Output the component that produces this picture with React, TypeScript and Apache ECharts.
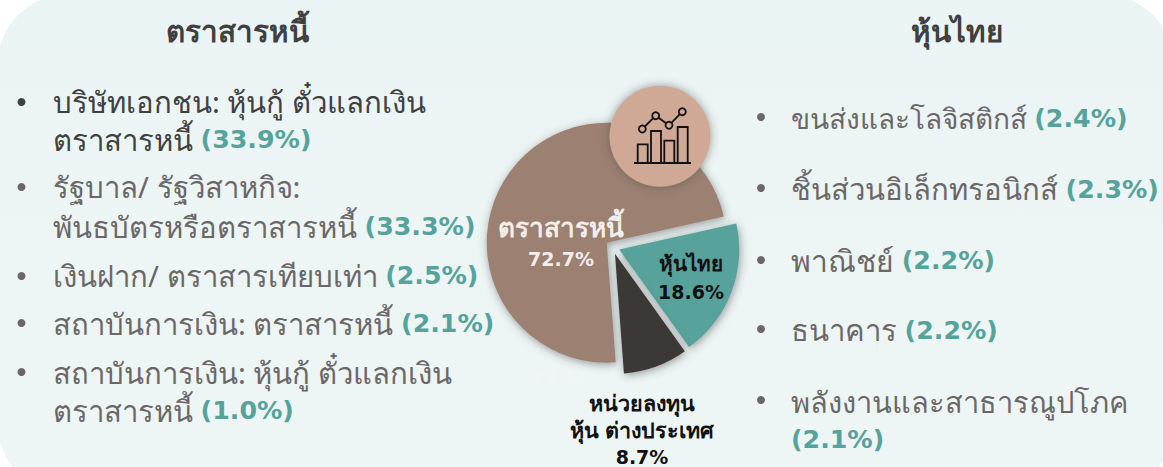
import React, { useEffect, useRef } from "react";
import * as echarts from "echarts";

const categories = ["ตราสารหนี้", "หุ้นไทย", "หน่วยลงทุน\nหุ้น ต่างประเทศ"];
const values = [72.7, 18.6, 8.7];
const sliceColors = ["#9C8071", "#58A29C", "#3B3836"];

const leftTitle = "ตราสารหนี้";
const rightTitle = "หุ้นไทย";
const ghostLabel = "73 %";
const leftLines = [
  ["บริษัทเอกชน: หุ้นกู้ ตั๋วแลกเงิน", ""],
  ["ตราสารหนี้ ", "(33.9%)"],
  ["รัฐบาล/ รัฐวิสาหกิจ:", ""],
  ["พันธบัตรหรือตราสารหนี้ ", "(33.3%)"],
  ["เงินฝาก/ ตราสารเทียบเท่า ", "(2.5%)"],
  ["สถาบันการเงิน: ตราสารหนี้ ", "(2.1%)"],
  ["สถาบันการเงิน: หุ้นกู้ ตั๋วแลกเงิน", ""],
  ["ตราสารหนี้ ", "(1.0%)"],
];
const rightLines = [
  ["ขนส่งและโลจิสติกส์ ", "(2.4%)"],
  ["ชิ้นส่วนอิเล็กทรอนิกส์ ", "(2.3%)"],
  ["พาณิชย์ ", "(2.2%)"],
  ["ธนาคาร ", "(2.2%)"],
  ["พลังงานและสาธารณูปโภค", ""],
  ["", "(2.1%)"],
];

const leftLineY = [101.5, 139.5, 186.5, 226.5, 275.5, 323.5, 372.5, 410.5];
const rightLineY = [118, 189, 260, 330, 401, 439.5];
const rightLineSize = [28, 29.3, 30, 29.3, 29, 29.3];
const leftBulletY = [102, 187, 276, 323, 372];
const rightBulletY = [117, 188, 260, 329, 400];
const iconBars = [
  [637.7, 144.3, 10],
  [651, 131, 10],
  [664.3, 140.7, 10],
  [677.7, 127, 10],
];
const iconDots = [
  [642.3, 129],
  [655.7, 115.7],
  [669, 125.3],
  [682.3, 111.7],
];
const labelPos = [
  [561, 243],
  [691, 277],
  [642, 429.5],
];
const labelColors = ["#F2EEEB", "#111111", "#111111"];
const labelNameSize = [26.2, 20.7, 21.5];

const THAI = '"Noto Sans", sans-serif';
const PCT = '"DejaVu Sans", sans-serif';
const TEXT = "#6B6767";
const DARK = "#404040";
const TEAL = "#55A39B";

function lineText(x: number, y: number, line: string[], color: string, size: number) {
  return {
    type: "text",
    x,
    y,
    z: 5,
    style: {
      text: (line[0] ? `{t|${line[0]}}` : "") + (line[1] ? `{p|${line[1]}}` : ""),
      verticalAlign: "middle",
      rich: {
        t: { fontSize: size, fontFamily: THAI, fill: color },
        p: { fontSize: 25.3, fontWeight: "bold", fontFamily: PCT, fill: TEAL },
      },
    },
  };
}

export default function App() {
  const ref = useRef<HTMLDivElement>(null);
  useEffect(() => {
    const chart = echarts.init(ref.current!, null, { renderer: "svg" });
    const graphic: any[] = [
      {
        type: "rect", z: 0, shape: { x: -3, y: -6, width: 1177, height: 500, r: 72 },
        style: {
          fill: new echarts.graphic.LinearGradient(0, 0, 0, 1, [
            { offset: 0, color: "#EBF4F4" },
            { offset: 1, color: "#EEF6F5" },
          ]),
        },
      },
      { type: "text", z: 5, x: 237.5, y: 30.5, style: { text: leftTitle, font: `bold 29.6px ${THAI}`, fill: DARK, align: "center", verticalAlign: "middle" } },
      { type: "text", z: 5, x: 956.5, y: 30.5, style: { text: rightTitle, font: `bold 29.6px ${THAI}`, fill: DARK, align: "center", verticalAlign: "middle" } },
      { type: "text", z: 1, x: 557, y: 378, style: { text: ghostLabel, font: `bold 19px ${PCT}`, fill: "#F0F6F6", align: "center", verticalAlign: "middle" } },
      {
        type: "circle", z: 10, shape: { cx: 660, cy: 136.3, r: 50.5 },
        style: { fill: "#CFA995", shadowBlur: 10, shadowColor: "rgba(70,70,70,0.55)" },
      },
      { type: "line", z: 11, shape: { x1: 634, y1: 163, x2: 691, y2: 163 }, style: { stroke: "#111", lineWidth: 2 } },
    ];
    leftLines.forEach((l, i) => graphic.push(lineText(53, leftLineY[i], l, i < 2 ? DARK : TEXT, 29.3)));
    rightLines.forEach((l, i) => graphic.push(lineText(791, rightLineY[i], l, TEXT, rightLineSize[i])));
    leftBulletY.forEach((y, i) => graphic.push({ type: "circle", z: 5, shape: { cx: 21.5, cy: y, r: 4 }, style: { fill: i === 0 ? DARK : TEXT } }));
    rightBulletY.forEach((y) => graphic.push({ type: "circle", z: 5, shape: { cx: 761, cy: y, r: 4 }, style: { fill: TEXT } }));
    iconBars.forEach(([x, y, w]) =>
      graphic.push({ type: "rect", z: 11, shape: { x, y, width: w, height: 163 - y }, style: { fill: "none", stroke: "#111", lineWidth: 1.8 } })
    );
    graphic.push({ type: "polyline", z: 11, shape: { points: iconDots }, style: { fill: "none", stroke: "#111", lineWidth: 1.8 } });
    iconDots.forEach(([cx, cy]) =>
      graphic.push({ type: "circle", z: 12, shape: { cx, cy, r: 3.5 }, style: { fill: "#CFA995", stroke: "#111", lineWidth: 1.8 } })
    );
    categories.forEach((name, i) => {
      const lh = i === 0 ? 32 : i === 1 ? 29 : 27.5;
      graphic.push({
        type: "text", z: 6, x: labelPos[i][0], y: labelPos[i][1],
        style: {
          text: name.split("\n").map((s) => `{a|${s}}`).join("\n") + `\n{b|${values[i]}%}`,
          align: "center",
          verticalAlign: "middle",
          rich: {
            a: { fontFamily: THAI, fontWeight: "bold", fontSize: labelNameSize[i], lineHeight: lh, fill: labelColors[i], align: "center" },
            b: { fontFamily: PCT, fontWeight: "bold", fontSize: 19, lineHeight: lh, fill: labelColors[i], align: "center" },
          },
        },
      });
    });

    chart.setOption({
      animation: false,
      graphic,
      series: [
        {
          type: "pie",
          center: [612.5, 247],
          radius: 120,
          startAngle: 274.3,
          clockwise: true,
          selectedMode: "multiple",
          selectedOffset: 7.2,
          silent: true,
          z: 3,
          label: { show: false },
          labelLine: { show: false },
          itemStyle: { shadowBlur: 8, shadowColor: "rgba(60,60,60,0.5)", shadowOffsetX: 1, shadowOffsetY: 2 },
          data: categories.map((name, i) => ({
            name,
            value: values[i],
            selected: true,
            itemStyle: { color: sliceColors[i] },
            select: { itemStyle: { color: sliceColors[i] } },
          })),
        },
      ],
    });
    return () => chart.dispose();
  }, []);
  return <div ref={ref} style={{ position: "absolute", left: 0, top: 0, width: 1163, height: 467 }} />;
}
